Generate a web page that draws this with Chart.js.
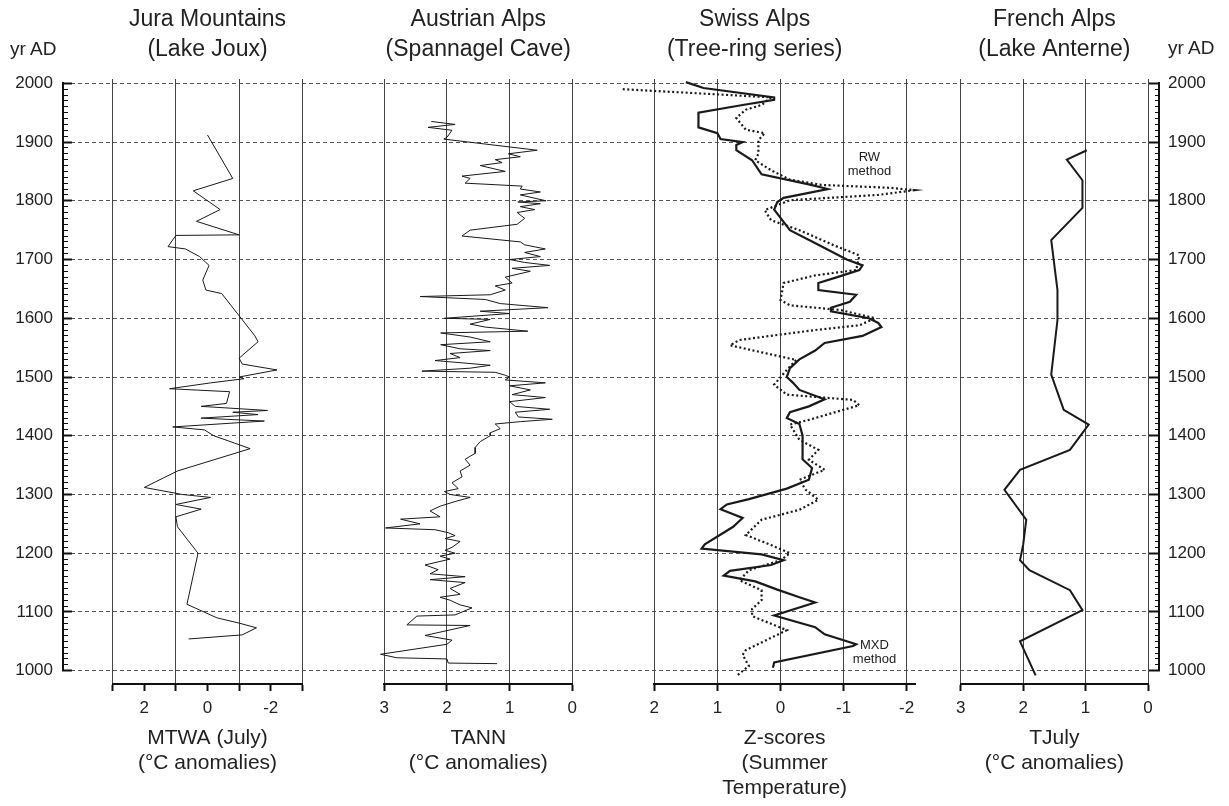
<!DOCTYPE html>
<html><head><meta charset="utf-8">
<script src="https://cdn.jsdelivr.net/npm/chart.js@4/dist/chart.umd.min.js"></script>
<style>
html,body{margin:0;padding:0;background:#fff;}
#wrap{position:relative;width:1229px;height:806px;overflow:hidden;}
canvas{position:absolute;left:0;top:0;}
.lbl{position:absolute;font-family:'Liberation Sans',Arial,Helvetica,sans-serif;color:#222;white-space:nowrap;}
.ann{position:absolute;font-family:'Liberation Sans',Arial,Helvetica,sans-serif;color:#222;font-size:13px;line-height:14px;text-align:center;white-space:nowrap;transform:translate(-50%,-50%);}
</style></head><body>
<div id="wrap"><canvas id="c" width="1229" height="806"></canvas>
<div class="lbl" style="left:10px;top:38px;font-size:19px">yr AD</div>
<div class="lbl" style="left:1168px;top:37px;font-size:19px">yr AD</div>
</div>
<script>
// ---------- data ----------
const juraYears = [1912,1838,1817,1785,1765,1742,1741,1722,1718,1705,1690,1665,1648,1642,1570,1560,1532,1522,1512,1500,1497,1490,1480,1475,1455,1450,1443,1440,1436,1430,1425,1415,1410,1400,1378,1340,1312,1300,1295,1283,1275,1262,1245,1200,1113,1090,1081,1073,1061,1054];
const juraVals  = [0.0,-0.8,0.45,-0.4,0.35,-1.0,1.0,1.25,0.7,0.25,-0.05,0.15,0.05,-0.45,-1.5,-1.6,-1.0,-1.1,-2.2,-1.0,-1.15,-0.1,1.2,-0.7,-0.6,0.2,-1.9,-0.8,-1.6,0.2,-1.8,1.1,0.1,-0.2,-1.35,0.95,2.0,0.8,-0.1,1.0,0.2,1.0,0.95,0.3,0.65,-0.3,-1.0,-1.55,-1.1,0.6];

const austYears = [1935,1930,1925,1920,1908,1905,1886,1880,1875,1870,1865,1860,1850,1842,1838,1830,1825,1820,1815,1810,1800,1798,1795,1790,1785,1780,1770,1760,1750,1740,1730,1725,1718,1712,1705,1700,1695,1690,1685,1680,1670,1660,1655,1648,1640,1637,1632,1625,1618,1612,1608,1600,1598,1590,1585,1578,1575,1568,1560,1555,1548,1545,1540,1533,1528,1520,1515,1510,1508,1503,1500,1495,1490,1485,1478,1470,1465,1458,1450,1445,1440,1432,1428,1424,1420,1412,1405,1400,1390,1380,1370,1360,1350,1340,1330,1320,1310,1305,1300,1295,1288,1280,1272,1262,1258,1250,1243,1240,1235,1230,1225,1220,1210,1205,1200,1195,1190,1180,1172,1165,1160,1155,1150,1140,1130,1125,1120,1112,1107,1095,1093,1078,1077,1060,1052,1045,1028,1022,1020,1013,1012];
const austVals  = [2.25,1.87,2.3,1.92,2.0,2.05,0.56,1.02,0.83,1.23,1.12,1.47,1.07,1.76,1.63,1.71,0.8,0.83,0.51,0.83,0.42,0.87,0.51,0.83,0.6,0.88,0.76,0.88,1.63,1.76,0.83,0.76,0.43,0.76,0.51,1.0,0.76,0.36,0.96,0.67,1.07,0.96,1.23,1.07,1.31,2.43,1.39,1.15,0.39,1.47,1.0,2.04,1.31,1.63,1.39,0.71,2.1,1.63,1.31,2.1,1.79,1.31,1.95,1.79,2.19,1.31,1.63,2.4,1.23,1.07,1.0,1.07,0.43,1.0,0.67,0.96,0.43,1.0,0.91,0.36,0.91,0.86,0.32,0.83,1.23,1.15,1.31,1.31,1.47,1.55,1.55,1.71,1.63,1.79,1.76,1.92,1.82,2.04,1.95,1.63,1.87,2.11,2.27,2.11,2.74,2.43,2.98,2.19,1.98,1.87,2.03,1.79,1.92,2.03,1.87,2.11,1.95,2.35,2.14,2.27,1.71,2.27,1.71,1.95,1.79,2.11,1.95,1.79,1.6,1.87,2.48,2.64,1.63,2.35,1.92,2.0,3.06,2.8,2.0,1.98,1.2];

const mxdYears = [2002,1992,1976,1972,1963,1950,1940,1925,1915,1905,1900,1895,1886,1869,1845,1828,1820,1805,1798,1785,1750,1725,1700,1690,1682,1670,1660,1648,1640,1628,1618,1612,1600,1592,1585,1570,1558,1545,1530,1515,1500,1490,1478,1462,1450,1440,1430,1420,1400,1380,1360,1345,1325,1310,1292,1283,1275,1260,1245,1215,1208,1198,1188,1180,1170,1162,1152,1138,1125,1116,1094,1074,1062,1045,1042,1014,1005];
const mxdVals  = [1.5,1.22,0.1,0.1,0.6,1.3,1.3,1.3,1.0,0.95,0.6,0.7,0.7,0.45,0.3,-0.45,-0.75,-0.05,0.05,0.1,-0.15,-0.6,-1.05,-1.3,-1.25,-0.9,-0.6,-0.6,-1.2,-1.1,-0.8,-0.8,-1.4,-1.55,-1.6,-1.3,-0.7,-0.55,-0.3,-0.15,-0.1,-0.2,-0.3,-0.7,-0.45,-0.15,-0.1,-0.3,-0.35,-0.35,-0.35,-0.5,-0.45,-0.1,0.5,0.85,0.95,0.6,0.75,1.2,1.25,0.3,-0.05,0.15,0.8,0.9,0.4,0.05,-0.3,-0.55,0.1,-0.55,-0.7,-1.2,-1.15,0.1,0.12];

const rwYears = [1990,1976,1963,1955,1941,1921,1915,1903,1880,1869,1852,1836,1827,1822,1818,1810,1801,1784,1767,1750,1724,1707,1682,1673,1660,1631,1622,1614,1600,1588,1580,1563,1554,1542,1529,1512,1487,1470,1461,1452,1427,1419,1393,1376,1359,1342,1325,1308,1291,1274,1257,1231,1214,1200,1188,1171,1154,1137,1120,1105,1093,1069,1035,1027,1008,991];
const rwVals  = [2.5,0.15,0.3,0.55,0.7,0.55,0.25,0.35,0.35,0.4,0.15,-0.15,-0.65,-1.75,-2.12,-1.55,-0.15,0.25,0.15,-0.3,-0.85,-1.25,-1.2,-0.55,-0.05,0.0,-0.15,-0.95,-1.5,-1.25,-0.55,0.65,0.8,0.3,-0.25,-0.1,0.1,-0.1,-1.15,-1.25,-0.45,-0.15,-0.3,-0.6,-0.45,-0.7,-0.3,-0.4,-0.6,-0.3,0.3,0.55,0.15,-0.15,0.0,0.5,0.65,0.3,0.3,0.45,0.45,-0.1,0.55,0.6,0.5,0.7];

const frYears = [1886,1870,1835,1788,1733,1648,1597,1504,1444,1419,1376,1342,1308,1257,1214,1188,1171,1137,1103,1050,992];
const frVals  = [0.98,1.3,1.05,1.05,1.55,1.45,1.45,1.55,1.35,0.95,1.25,2.05,2.3,1.95,2.0,2.05,1.9,1.25,1.05,2.05,1.8];

// tick values / labels
const yearTicks = []; for (let yr = 1000; yr <= 2000; yr += 10) yearTicks.push(yr);
const juraTicks = [3,2,1,0,-1,-2,-3];
const austTicks = [3,2,1,0];
const swissTicks = [2,1,0,-1,-2];
const frTicks = [3,2,1,0];

const topTitles = [['Jura Mountains','(Lake Joux)'],['Austrian Alps','(Spannagel Cave)'],['Swiss Alps','(Tree-ring series)'],['French Alps','(Lake Anterne)']];
const bottomTitles = [['MTWA (July)','(°C anomalies)',''],['TANN','(°C anomalies)',''],['Z-scores','(Summer','Temperature)'],['TJuly','(°C anomalies)','']];

// ---------- chart ----------
const FONT = "'Liberation Sans', Arial, Helvetica, sans-serif";
Chart.defaults.font.family = FONT;
Chart.defaults.color = '#222';

const TOP_H = 79, BOTTOM_H = 122, LEFT_W = 50, RIGHT_W = 70;

const pairs = (vals, years) => vals.map((v, i) => ({x: v, y: years[i]}));
const setTicks = arr => s => { s.ticks = arr.map(v => ({value: v})); };
const tv = ctx => (ctx && ctx.tick) ? ctx.tick.value : null;

function gap(pos, stack, w, h) {
  return {type:'linear', axis:'x', position:pos, stack, stackWeight:w, display:false, min:0, max:1,
    afterFit: s => { s.height = h; }};
}
function panel(min, max, ticks, labelFn, gridFn, title, w) {
  return {
    type:'linear', axis:'x', position:'bottom', stack:'B', stackWeight:w, min, max, reverse:true,
    afterBuildTicks: setTicks(ticks),
    afterFit: s => { s.height = BOTTOM_H; },
    ticks:{font:{size:17}, color:'#222', padding:7, maxRotation:0, minRotation:0, autoSkip:false, callback: labelFn},
    grid:{drawOnChartArea:true, color: c => { const v = tv(c); return (v === null || gridFn(v)) ? '#444' : 'rgba(0,0,0,0)'; },
          lineWidth:1, tickLength:7, tickWidth:2, tickColor:'#111'},
    border:{display:true, color:'#111', width:2},
    title:{display:true, text:title, font:{size:21, lineHeight:1.2}, color:'#222', padding:{top:0, bottom:5}}
  };
}
function topTitle(text, w) {
  return {type:'linear', axis:'x', position:'top', stack:'T', stackWeight:w, min:0, max:1,
    afterFit: s => { s.height = TOP_H; },
    ticks:{display:false}, grid:{display:false, drawTicks:false}, border:{display:false},
    title:{display:true, text, font:{size:23, lineHeight:1.3}, color:'#222', padding:{top:5, bottom:0}}};
}
function yAxis(pos) {
  const left = pos === 'left';
  return {
    type:'linear', axis:'y', position:pos, stack: left ? 'L' : 'R', stackWeight:587.4, min:1000, max:2000,
    afterBuildTicks: setTicks(yearTicks),
    afterFit: s => { s.width = left ? LEFT_W : RIGHT_W; },
    ticks:{font:{size:17}, color:'#222', padding:19, autoSkip:false, callback: v => (v % 100 === 0 ? String(v) : '')},
    grid:{
      drawOnChartArea: left,
      color: c => { const v = tv(c); return (v !== null && v % 100 === 0) ? '#555' : 'rgba(0,0,0,0)'; },
      lineWidth:1,
      tickLength: left ? -9 : -10,
      tickColor:'#111',
      tickWidth: c => { const v = tv(c); return (v !== null && v % 100 === 0) ? 2 : 1; },
      tickBorderDash: c => { const v = tv(c); return (v !== null && v % 100 === 0) ? [] : (left ? [5,4] : [5,20]); },
      tickBorderDashOffset: c => { const v = tv(c); return (v !== null && v % 100 === 0) ? 0 : (left ? 5 : 0); }
    },
    border:{display:true, color:'#111', width:2, dash:[4,3]}
  };
}
const spacer = (pos, w) => ({type:'linear', axis:'y', position:pos, stack: pos === 'left' ? 'L' : 'R', stackWeight:w,
  display:false, min:0, max:1, afterFit: s => { s.width = pos === 'left' ? LEFT_W : RIGHT_W; }});

const scales = {
  // left stack (declared bottom -> top)
  yBotL: spacer('left', 13.3),
  y: yAxis('left'),
  yTopL: spacer('left', 4.3),
  // right stack (top -> bottom)
  yTopR: spacer('right', 4.3),
  yR: yAxis('right'),
  yBotR: spacer('right', 13.3),
  // top title stack (declared right -> left)
  tg4: gap('top','T',11,TOP_H),
  t4: topTitle(topTitles[3], 187.3),
  tg3: gap('top','T',75.7,TOP_H),
  t3: topTitle(topTitles[2], 260.7),
  tg2: gap('top','T',52,TOP_H),
  t2: topTitle(topTitles[1], 188),
  tg1: gap('top','T',82,TOP_H),
  t1: topTitle(topTitles[0], 189.6),
  tg0: gap('top','T',49.7,TOP_H),
  // bottom panel stack (left -> right)
  bg0: gap('bottom','B',49.7,BOTTOM_H),
  p1: panel(-3, 3, juraTicks, v => (v % 2 === 0 ? String(v) : ''), v => Math.abs(v) % 2 === 1, bottomTitles[0], 189.6),
  bg1: gap('bottom','B',82,BOTTOM_H),
  p2: panel(0, 3, austTicks, v => String(v), v => true, bottomTitles[1], 188),
  bg2: gap('bottom','B',82,BOTTOM_H),
  p3: panel(-2.132, 2, swissTicks, v => String(v), v => true, bottomTitles[2], 260.7),
  bg3: gap('bottom','B',45.7,BOTTOM_H),
  p4: panel(0, 3, frTicks, v => String(v), v => true, bottomTitles[3], 187.3),
  bg4: gap('bottom','B',11,BOTTOM_H)
};

const line = (data, xAxisID, width, dash) => ({
  data, xAxisID, yAxisID:'y', showLine:true, borderColor:'#1a1a1a', borderWidth:width,
  borderDash: dash || [], pointRadius:0, pointHoverRadius:0, tension:0, fill:false, clip:false
});

const chart = new Chart(document.getElementById('c'), {
  type:'scatter',
  data:{datasets:[
    line(pairs(juraVals, juraYears), 'p1', 1),
    line(pairs(austVals, austYears), 'p2', 1),
    line(pairs(rwVals, rwYears), 'p3', 2.2, [2,2.5]),
    line(pairs(mxdVals, mxdYears), 'p3', 2.2),
    line(pairs(frVals, frYears), 'p4', 2)
  ]},
  options:{
    responsive:false, animation:false, events:[],
    layout:{padding:{left:13, right:0, top:0, bottom:0}},
    plugins:{legend:{display:false}, tooltip:{enabled:false}, title:{display:false}},
    scales
  }
});

// method annotations, anchored through the chart's own scales
const annTexts = ['RW<br>method', 'MXD<br>method'];
const annVals = [-1.41, -1.49];
const annYears = [1862, 1031];
const wrap = document.getElementById('wrap');
annTexts.forEach((t, i) => {
  const d = document.createElement('div');
  d.className = 'ann';
  d.innerHTML = t;
  d.style.left = chart.scales.p3.getPixelForValue(annVals[i]) + 'px';
  d.style.top = chart.scales.y.getPixelForValue(annYears[i]) + 'px';
  wrap.appendChild(d);
});
</script>
</body></html>
